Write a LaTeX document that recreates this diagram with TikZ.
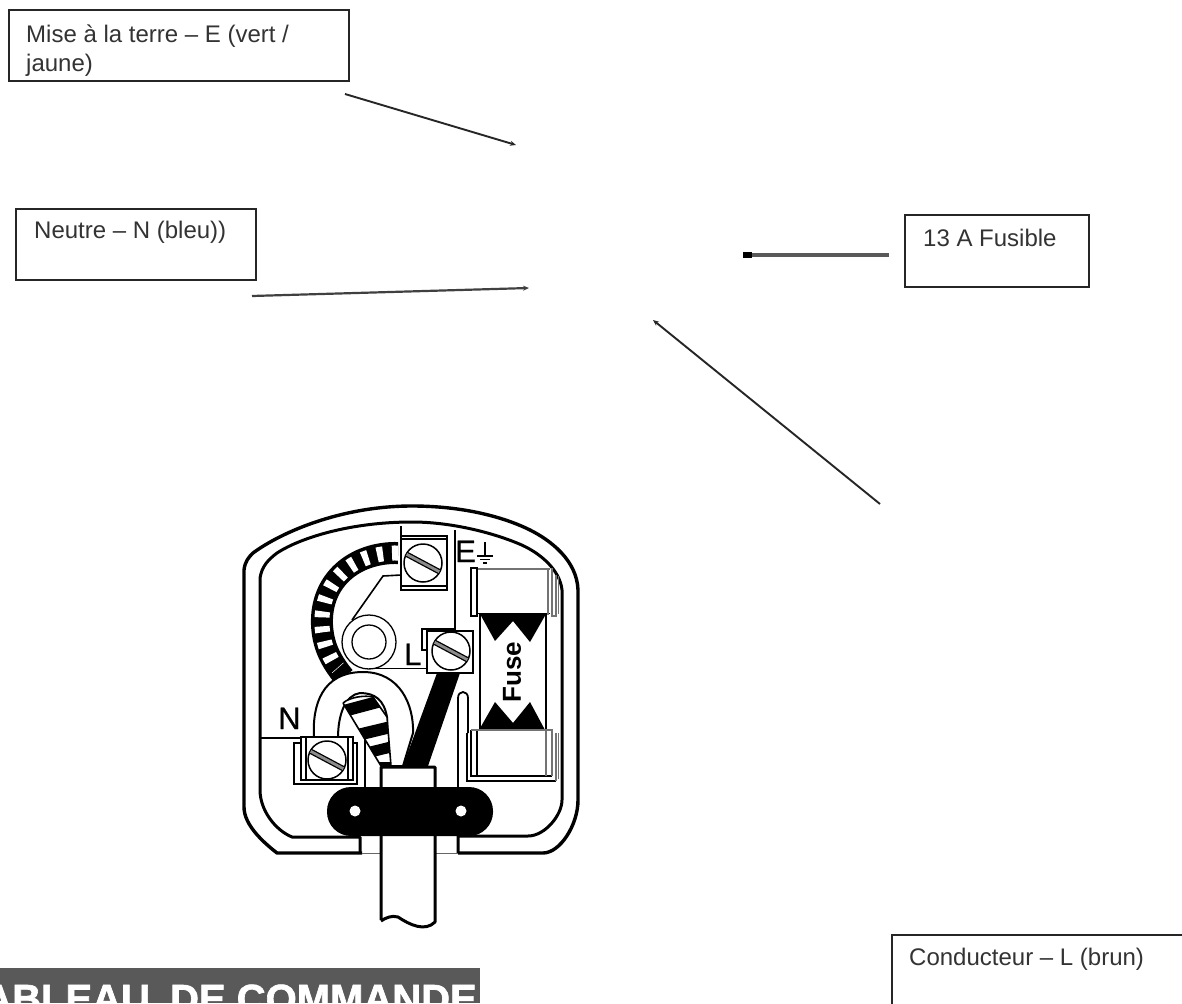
\documentclass[tikz,border=0pt]{standalone}
\usepackage{fontspec}
\setmainfont{Liberation Sans}
\newfontfamily\heavyfont[FakeBold=1.6]{Liberation Sans Bold}
\newfontfamily\letterfont[FakeBold=0.5]{Liberation Sans}
\usetikzlibrary{arrows.meta}
\tikzset{
  lblbox/.style={draw=black!85,line width=2pt,fill=white,inner sep=0,anchor=north west},
  lbl/.style={inner sep=0,anchor=north west,align=left,text=black!80,font=\fontsize{24}{29}\selectfont},
  pointer/.style={draw=black!85,line width=1.9pt,-{Stealth[length=6pt,width=5pt]}},
  fat/.style={draw=black,line width=3pt,line join=round},
  thin/.style={draw=black,line width=1.6pt},
  pale/.style={draw=black!55,line width=2pt},
  pluglet/.style={inner sep=0,font=\letterfont\fontsize{31}{31}\selectfont,text=black},
  screwbody/.style={draw=black,line width=1.5pt,fill=white}
}
\newcommand{\screw}[3]{% name, x, y
  \node[screwbody,circle,minimum size=38pt,inner sep=0] (#1) at (#2,#3) {};
  \begin{scope}[shift={(#2,#3)},rotate=-28]
    \draw[black,line width=5.4pt] (-18,0) -- (18,0);
    \draw[black!45,line width=2.8pt] (-18.5,0) -- (18.5,0);
  \end{scope}
}
\begin{document}
\begin{tikzpicture}[x=1pt,y=-1pt]
\useasboundingbox (0,0) rectangle (1182,1003);
\fill[white] (0,0) rectangle (1182,1003);
% label boxes
\node[lblbox,minimum width=340pt,minimum height=71pt] (eBox) at (8,9) {};
\node[lbl] (eTxt) at (26,25) {Mise à la terre – E (vert /\\jaune)};
\node[lblbox,minimum width=240pt,minimum height=71pt] (nBox) at (15,207.5) {};
\node[lbl] (nTxt) at (34,221) {Neutre – N (bleu))};
\node[lblbox,minimum width=184pt,minimum height=72pt] (fBox) at (903.5,214) {};
\node[lbl] (fTxt) at (923,229) {13 A Fusible};
\begin{scope}
\clip (0,0) rectangle (1182,1003);
\node[lblbox,minimum width=320pt,minimum height=100pt] (lBox) at (891,934) {};
\node[lbl] (lTxt) at (909,948) {Conducteur – L (brun)};
% banner
\fill[black!65] (0,967.5) rectangle (480,1003);
\node[inner sep=0,anchor=base east,text=white,font=\heavyfont\fontsize{40}{40}\selectfont] (banner) at (477,1012.5) {TABLEAU \hspace{9pt}DE COMMANDE};
\end{scope}
% pointers
\coordinate (e0) at (345,94); \coordinate (e1) at (516,145);
\coordinate (n0) at (252,296); \coordinate (n1) at (529,288);
\coordinate (f0) at (889,255); \coordinate (f1) at (743,255);
\coordinate (l0) at (880,504); \coordinate (l1) at (653,320);
\draw[pointer] (e0) -- (e1);
\draw[pointer,draw=black!75,line width=2.2pt] (n0) -- (n1);
\draw[draw=black!65,line width=3.6pt,-{Rectangle[black,length=9pt,width=6pt]}] (f0) -- (f1);
\draw[pointer] (l0) -- (l1);
% plug body
\draw[fat,line width=3.4pt] (362,853) -- (277,853) .. controls (263,842) and (244,825) .. (244,807) -- (244,570)
  .. controls (245,561) and (249,557) .. (253,553) .. controls (280,533) and (340,506) .. (412,506)
  .. controls (470,506) and (510,520) .. (530,530) .. controls (550,540) and (577,560) .. (578,590)
  -- (578,800) .. controls (578,825) and (560,853) .. (543,853) -- (458,853);
\draw[fat] (360,853) -- (360,837) -- (292,837) .. controls (275,830) and (260,810) .. (260,790) -- (260,578)
  .. controls (262,566) and (268,560) .. (277,553) .. controls (300,538) and (350,522) .. (412,522)
  .. controls (450,522) and (490,532) .. (517,543) .. controls (540,552) and (560,570) .. (562,590)
  -- (562,800) .. controls (562,815) and (545,836) .. (528,836) -- (458,836) -- (458,853);
\draw[black!60,line width=1pt] (362,853) -- (381,853) (435,853) -- (458,853);
% earth wire
\draw[black,line width=22pt] (398,553) .. controls (355,552) and (320,580) .. (322,625) .. controls (323,645) and (330,660) .. (344,677);
\draw[white,line width=15pt,dash pattern=on 6pt off 9pt] (398,553) .. controls (355,552) and (320,580) .. (322,625) .. controls (323,645) and (330,660) .. (338,668);
% earth terminal
\draw[thin] (401,526) -- (401,590) -- (447,590) -- (447,536) -- (401,536);
\draw[thin] (401,539) -- (447,539) (401,586) -- (447,586);
\draw[thin,line width=1.8pt] (455,530) -- (455,629) -- (422,629) -- (422,650) -- (427,650);
\screw{sE}{423}{563}
\draw[thin] (401,575) -- (383,576) -- (352,620);
% neutral pin
\node[circle,draw=black,line width=1.3pt,fill=white,minimum size=54pt,inner sep=0] (pinO) at (369,642) {};
\node[circle,draw=black,line width=1.3pt,fill=white,minimum size=34pt,inner sep=0] (pinI) at (369,642) {};
\draw[thin] (369,668.5) -- (427,668.5);
% neutral wire arch
\draw[fat,line width=2pt,fill=white] (314,738) .. controls (312,705) and (322,672) .. (363,672)
  .. controls (400,672) and (414,705) .. (413,733) -- (403,766) -- (388,766)
  -- (387,717) .. controls (384,700) and (375,693) .. (360,693) .. controls (345,695) and (338,715) .. (338,738);
% live wire and terminal
\fill[black] (437,673) -- (460,673) -- (428,766) -- (403,766) -- cycle;
\draw[thin,line width=1.8pt,fill=white] (427,631) rectangle (473,673);
\screw{sL}{451}{651}
\node[pluglet,anchor=base west] (lLet) at (404,665) {L};
\node[pluglet,anchor=base west] (eLet) at (455,562) {E};
% earth symbol
\draw[thin] (485,542) -- (485,556) (477,556) -- (493,556);
\draw[thin] (480,559.5) -- (490,559.5) (483,563) -- (487,563);
% striped wire
\begin{scope}
\clip (343,703) .. controls (350,697) and (365,695) .. (373,697) -- (387,717) -- (391,766) -- (381,766) -- cycle;
\fill[white] (340,690) rectangle (395,770);
\draw[black,line width=12pt] (340,712) -- (385,700);
\draw[black,line width=12pt] (345,738) -- (395,726);
\draw[black,line width=11pt] (350,757) -- (395,746);
\fill[black] (370,762) rectangle (395,770);
\end{scope}
\draw[thin] (343,703) .. controls (350,697) and (365,695) .. (373,697) -- (387,717) -- (391,766) (343,703) -- (381,766);
% neutral terminal
\node[pluglet,anchor=base west] (nLet) at (278,729) {N};
\draw[thin] (260,738) -- (301,738);
\draw[thin,fill=white] (294,743) rectangle (357,784);
\draw[thin,fill=white] (301,737) rectangle (353,780);
\draw[thin] (306,737) -- (306,780) (348,737) -- (348,780);
\screw{sN}{327}{760}
\draw[thin] (365,733) -- (365,788);
% tongue
\draw[thin,line width=1.8pt] (458,788) -- (458,698) .. controls (458,690) and (468,690) .. (468,698) -- (468,733);
% fuse
\draw[thin] (480,614) -- (480,730) (546,614) -- (546,730);
\fill[black] (480,614) -- (495,641) -- (513,621) -- (530,642) -- (546,614) -- cycle;
\fill[black] (479,730) -- (495,702) -- (513,723) -- (530,702) -- (545,730) -- cycle;
\node[inner sep=0,rotate=90,font=\bfseries\fontsize{26}{26}\selectfont] (fuseTxt) at (512,672) {Fuse};
\draw[pale] (477,568.5) -- (550,568.5);
\draw[thin,line width=1.8pt] (477,613.5) -- (550,613.5);
\draw[thin,fill=white] (471,568) rectangle (477,616);
\draw[pale,line width=1.6pt] (548,568) -- (548,615) (552,568) -- (552,616) -- (556,616) -- (556,575);
\draw[pale,line width=1.6pt] (558.5,576) -- (558.5,614);
% lower cap
\draw[thin,line width=1.8pt] (467,733) -- (467,781) -- (556,781);
\draw[thin] (471,730) -- (471,776) -- (552,776);
\draw[thin] (477,730) -- (477,776);
\draw[pale,line width=1.4pt] (471,730) -- (552,730) -- (552,776) (546,730) -- (546,776) (556,733) -- (556,781);
\draw[pale,line width=1.4pt] (558.5,733) -- (558.5,779);
% cord grip and cable
\draw[fat,fill=white] (381,920) -- (381,767) -- (435,767) -- (435,922)
  .. controls (425,932) and (410,925) .. (398,917) .. controls (392,915) and (385,918) .. (381,921);
\node[draw=none,fill=black,rounded corners=24pt,minimum width=166pt,minimum height=49pt,inner sep=0] (grip) at (410,811.5) {};
\node[circle,fill=white,minimum width=11pt,inner sep=0] (holeL) at (355,811) {};
\node[circle,fill=white,minimum width=11pt,inner sep=0] (holeR) at (461,811) {};
\end{tikzpicture}
\end{document}
